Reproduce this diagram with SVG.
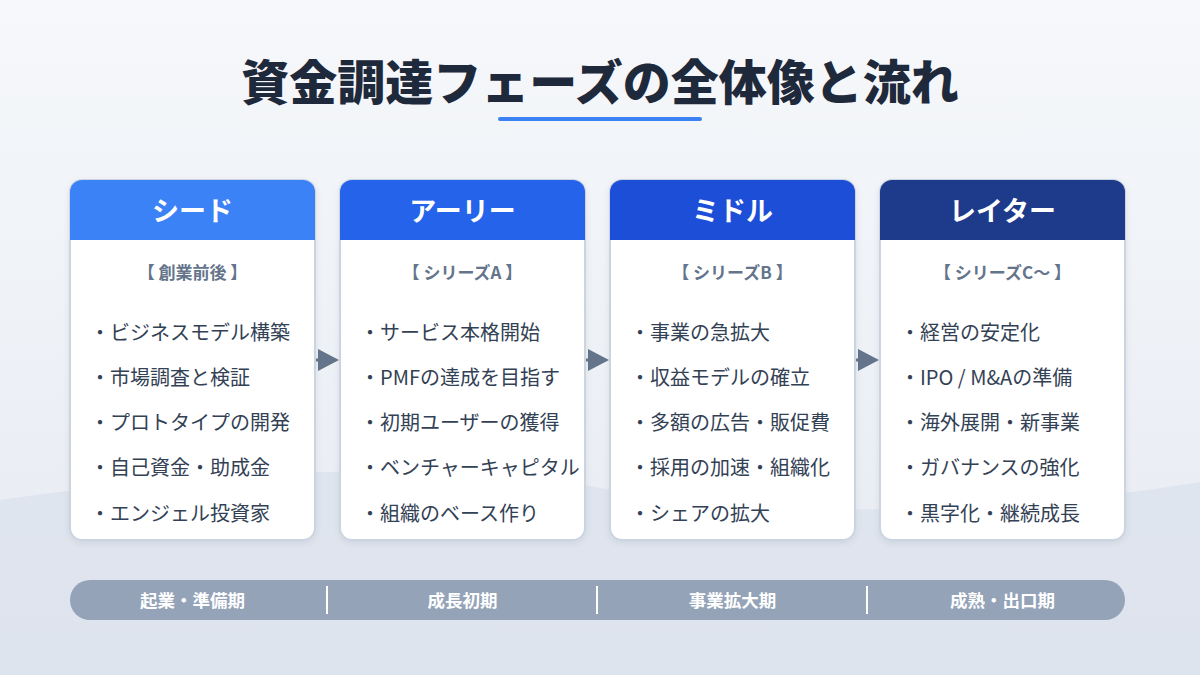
<svg xmlns="http://www.w3.org/2000/svg" width="1200" height="675" viewBox="0 0 1200 675">
<defs>
<linearGradient id="bg" x1="0" y1="0" x2="0" y2="1">
<stop offset="0" stop-color="#f6f8fb"/>
<stop offset="1" stop-color="#e6eaf1"/>
</linearGradient>
<marker id="arr" markerUnits="userSpaceOnUse" markerWidth="22" markerHeight="22" refX="2" refY="11" orient="auto">
<path d="M0,0 L21,11 L0,22 Z" fill="#64748b"/>
</marker>
<filter id="sh" x="-10%" y="-10%" width="120%" height="120%">
<feDropShadow dx="0" dy="2" stdDeviation="3" flood-color="#1e293b" flood-opacity="0.08"/>
</filter>
</defs>
<style>
.t{font-family:"Noto Sans CJK JP","Noto Sans",sans-serif}
.title{font-size:48px;font-weight:900;fill:#1e293b}
.card{fill:#ffffff;stroke:#cbd5e1;stroke-width:2}
.hd{font-size:27px;font-weight:700;fill:#ffffff}
.sub{font-size:17px;font-weight:700;fill:#64748b}
.it{font-size:20px;fill:#334155}
.bar{font-size:17.5px;font-weight:700;fill:#ffffff}
.div{stroke:#ffffff;stroke-width:2}
</style>
<rect width="1200" height="675" fill="url(#bg)"/>
<path d="M0,500 C200,470 450,460 600,488 C780,520 1000,515 1200,482 L1200,675 L0,675 Z" fill="#dce2ec" opacity="0.8"/>
<g id="title">
<text class="t title" x="600" y="100" text-anchor="middle">資金調達フェーズの全体像と流れ</text>
<line x1="500" y1="119" x2="700" y2="119" stroke="#3b82f6" stroke-width="4" stroke-linecap="round"/>
</g>
<g id="connectors">
<line x1="316" y1="360" x2="320" y2="360" stroke="#64748b" stroke-width="3" marker-end="url(#arr)"/>
<line x1="586" y1="360" x2="590" y2="360" stroke="#64748b" stroke-width="3" marker-end="url(#arr)"/>
<line x1="856" y1="360" x2="860" y2="360" stroke="#64748b" stroke-width="3" marker-end="url(#arr)"/>
</g>
<g id="seed">
<rect class="card" x="70" y="180" width="245" height="360" rx="12" filter="url(#sh)"/>
<path d="M70,192 a12,12 0 0 1 12,-12 h221 a12,12 0 0 1 12,12 v48 h-245 Z" fill="#3b82f6"/>
<text class="t hd" x="192.5" y="221" text-anchor="middle">シード</text>
<text class="t sub" x="192.5" y="279" text-anchor="middle">【 創業前後 】</text>
<text class="t it" x="90" y="340">・ビジネスモデル構築</text>
<text class="t it" x="90" y="385">・市場調査と検証</text>
<text class="t it" x="90" y="430">・プロトタイプの開発</text>
<text class="t it" x="90" y="475">・自己資金・助成金</text>
<text class="t it" x="90" y="521">・エンジェル投資家</text>
</g>
<g id="early">
<rect class="card" x="340" y="180" width="245" height="360" rx="12" filter="url(#sh)"/>
<path d="M340,192 a12,12 0 0 1 12,-12 h221 a12,12 0 0 1 12,12 v48 h-245 Z" fill="#2563eb"/>
<text class="t hd" x="462.5" y="221" text-anchor="middle">アーリー</text>
<text class="t sub" x="462.5" y="279" text-anchor="middle">【 シリーズA 】</text>
<text class="t it" x="360" y="340">・サービス本格開始</text>
<text class="t it" x="360" y="385">・PMFの達成を目指す</text>
<text class="t it" x="360" y="430">・初期ユーザーの獲得</text>
<text class="t it" x="360" y="475">・ベンチャーキャピタル</text>
<text class="t it" x="360" y="521">・組織のベース作り</text>
</g>
<g id="middle">
<rect class="card" x="610" y="180" width="245" height="360" rx="12" filter="url(#sh)"/>
<path d="M610,192 a12,12 0 0 1 12,-12 h221 a12,12 0 0 1 12,12 v48 h-245 Z" fill="#1d4ed8"/>
<text class="t hd" x="732.5" y="221" text-anchor="middle">ミドル</text>
<text class="t sub" x="732.5" y="279" text-anchor="middle">【 シリーズB 】</text>
<text class="t it" x="630" y="340">・事業の急拡大</text>
<text class="t it" x="630" y="385">・収益モデルの確立</text>
<text class="t it" x="630" y="430">・多額の広告・販促費</text>
<text class="t it" x="630" y="475">・採用の加速・組織化</text>
<text class="t it" x="630" y="521">・シェアの拡大</text>
</g>
<g id="later">
<rect class="card" x="880" y="180" width="245" height="360" rx="12" filter="url(#sh)"/>
<path d="M880,192 a12,12 0 0 1 12,-12 h221 a12,12 0 0 1 12,12 v48 h-245 Z" fill="#1e3a8a"/>
<text class="t hd" x="1002.5" y="221" text-anchor="middle">レイター</text>
<text class="t sub" x="1002.5" y="279" text-anchor="middle">【 シリーズC〜 】</text>
<text class="t it" x="900" y="340">・経営の安定化</text>
<text class="t it" x="900" y="385">・IPO / M&amp;Aの準備</text>
<text class="t it" x="900" y="430">・海外展開・新事業</text>
<text class="t it" x="900" y="475">・ガバナンスの強化</text>
<text class="t it" x="900" y="521">・黒字化・継続成長</text>
</g>
<g id="timeline">
<rect x="70" y="580" width="1055" height="40" rx="20" fill="#94a3b8"/>
<line class="div" x1="327" y1="586" x2="327" y2="614"/>
<line class="div" x1="597" y1="586" x2="597" y2="614"/>
<line class="div" x1="867" y1="586" x2="867" y2="614"/>
<text class="t bar" x="192.5" y="607" text-anchor="middle">起業・準備期</text>
<text class="t bar" x="462.5" y="607" text-anchor="middle">成長初期</text>
<text class="t bar" x="732.5" y="607" text-anchor="middle">事業拡大期</text>
<text class="t bar" x="1002.5" y="607" text-anchor="middle">成熟・出口期</text>
</g>
</svg>
